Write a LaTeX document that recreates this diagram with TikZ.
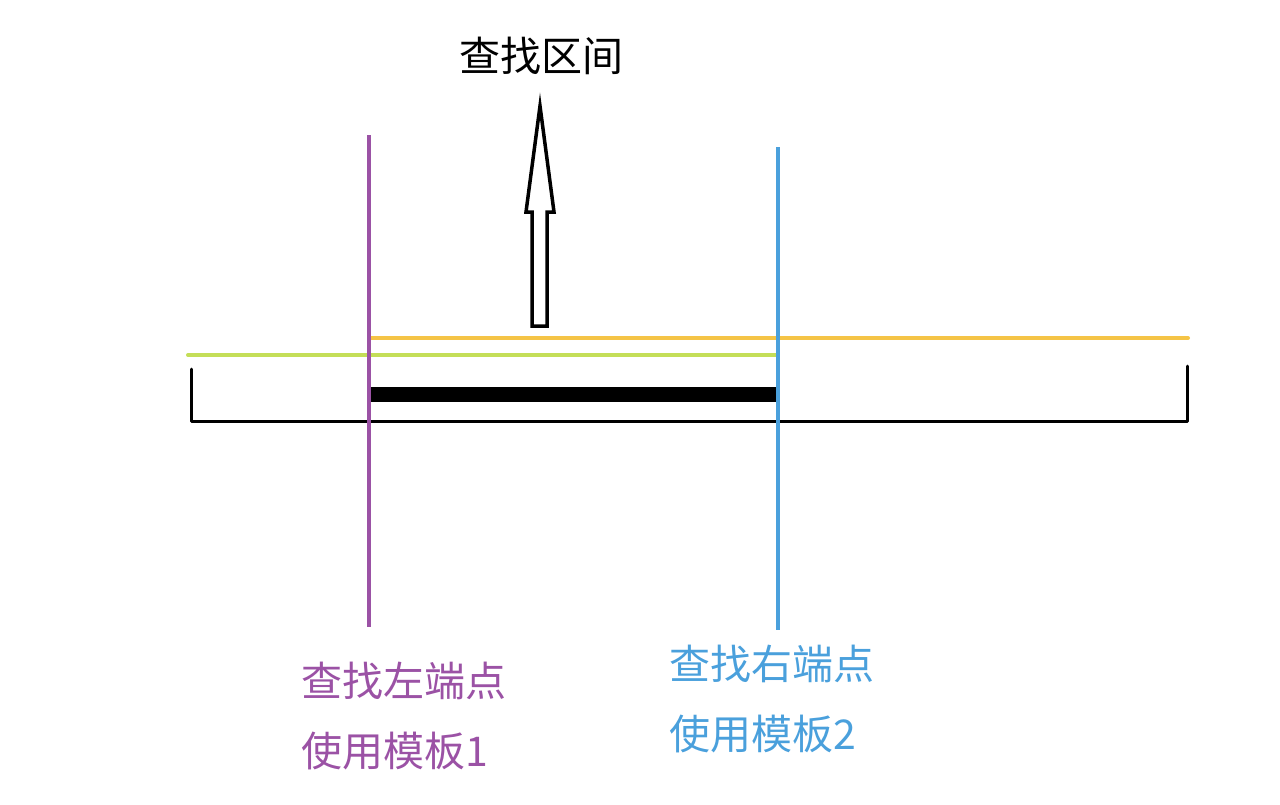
\documentclass[tikz,border=0pt]{standalone}
\usepackage{fontspec}
\newfontfamily\cjk{Noto Sans CJK SC}
\definecolor{lpurple}{RGB}{155,82,165}
\definecolor{lblue}{RGB}{74,160,220}
\definecolor{lorange}{RGB}{245,196,70}
\definecolor{lgreen}{RGB}{196,222,88}
\tikzset{
  lbl/.style={anchor=base west, inner sep=0pt, font=\cjk\fontsize{41}{41}\selectfont},
  cline/.style={line width=4pt, line cap=round},
  blk/.style={line width=3pt, line cap=round, line join=round}
}
\begin{document}
\begin{tikzpicture}[x=1pt,y=-1pt]
\useasboundingbox (0,0) rectangle (1280,804);
% title
\node[lbl] (title) at (459,71) {查找区间};
% hollow arrow
\draw[line width=3.5pt, line join=miter, fill=white]
  (532,326) -- (532,212) -- (526,212) -- (540,106) -- (554,212) -- (547,212) -- (547,326) -- cycle;
% coloured search ranges
\draw[cline, lorange] (371,338) -- (1188,338);
\draw[cline, lgreen] (188,355) -- (776,355);
% black bracket
\draw[blk] (191,369) -- (191,421) -- (1187,421) -- (1187,366);
% thick bar
\draw[line width=15.5pt] (371,394.5) -- (776,394.5);
% vertical lines
\draw[line width=4pt, lpurple] (369,135) -- (369,627);
\draw[line width=4pt, lblue] (778,147) -- (778,630);
% labels
\node[lbl, text=lpurple] (l1) at (301,696) {查找左端点};
\node[lbl, text=lpurple] (l2) at (301,766) {使用模板1};
\node[lbl, text=lblue] (r1) at (669,679) {查找右端点};
\node[lbl, text=lblue] (r2) at (669,749) {使用模板2};
\end{tikzpicture}
\end{document}
